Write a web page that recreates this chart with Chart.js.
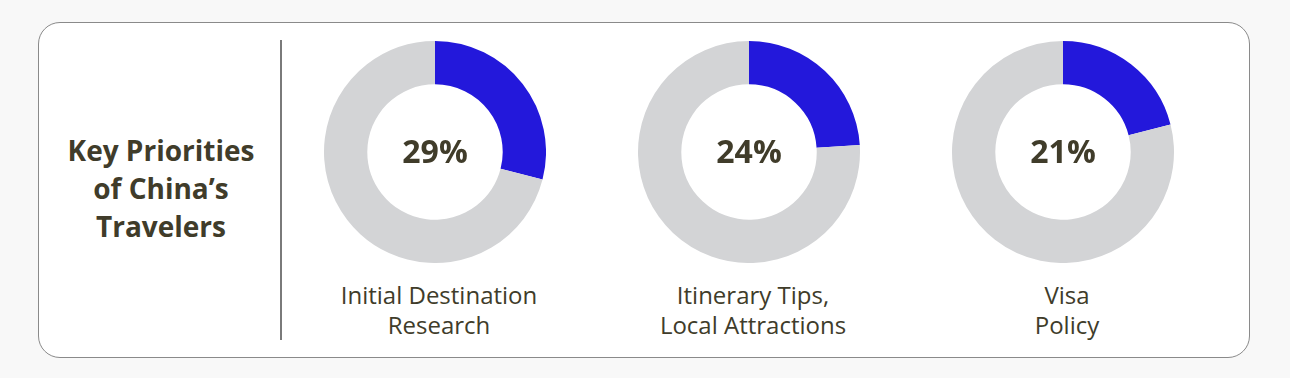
<!DOCTYPE html>
<html>
<head>
<meta charset="utf-8">
<script src="https://cdn.jsdelivr.net/npm/chart.js@4.4.1/dist/chart.umd.min.js"></script>
<style>
  html, body { margin: 0; padding: 0; background: #f8f8f8; }
  body { width: 1290px; height: 378px; position: relative; overflow: hidden; font-family: 'Open Sans', sans-serif; color: #403c2a; }
  .card { position: absolute; left: 38px; top: 22px; width: 1212px; height: 336px; background: #fff; border: 1px solid #8a8a8a; border-radius: 22px; box-sizing: border-box; }
  .divider { position: absolute; left: 280px; top: 40px; width: 2px; height: 300px; background: #7a7a7a; }
  .title { position: absolute; left: 40px; width: 242px; top: 131px; text-align: center; font-weight: 700; font-size: 28px; line-height: 38px; }
  .donut { position: absolute; top: 41px; width: 222px; height: 222px; }
  .label { position: absolute; top: 280px; width: 300px; text-align: center; font-size: 24px; line-height: 30px; }
</style>
</head>
<body>
<div class="card"></div>
<div class="divider"></div>
<div class="title">Key Priorities<br>of China’s<br>Travelers</div>

<div class="donut" style="left:324px"><canvas id="donut-0" width="222" height="222"></canvas></div>
<div class="donut" style="left:638px"><canvas id="donut-1" width="222" height="222"></canvas></div>
<div class="donut" style="left:952px"><canvas id="donut-2" width="222" height="222"></canvas></div>

<div class="label" id="label-0" style="left:289px"></div>
<div class="label" id="label-1" style="left:603px"></div>
<div class="label" id="label-2" style="left:917px"></div>

<script>
'use strict';

// ******* DATA *******
let categories = [
  ['Initial Destination', 'Research'],
  ['Itinerary Tips,', 'Local Attractions'],
  ['Visa', 'Policy']
];
let shareValues = [29, 24, 21];

// ******* COLORS *******
let blueColor = '#2318db';
let greyColor = '#d3d4d6';
let textColor = '#403c2a';

// draws the percentage in the middle of each ring
let centerTextPlugin = {
  id: 'centerText',
  afterDraw(chart) {
    let ctx = chart.ctx;
    let arc = chart.getDatasetMeta(0).data[0];
    let value = chart.data.datasets[0].data[0];
    ctx.save();
    ctx.font = 'bold 32px "Open Sans"';
    ctx.fillStyle = textColor;
    ctx.textAlign = 'center';
    ctx.textBaseline = 'middle';
    ctx.fillText(value + '%', arc.x, arc.y + 2);
    ctx.restore();
  }
};

function renderDonut(index) {
  let canvasElem = document.getElementById('donut-' + index).getContext('2d');
  let value = shareValues[index];

  new Chart(canvasElem, {
    type: 'doughnut',
    data: {
      labels: ['Share', 'Rest'],
      datasets: [{
        data: [value, 100 - value],
        backgroundColor: [blueColor, greyColor],
        borderWidth: 0,
        hoverOffset: 0
      }]
    },
    options: {
      responsive: false,
      animation: false,
      cutout: '61%',
      layout: { padding: 0 },
      plugins: {
        legend: { display: false },
        tooltip: { enabled: false }
      }
    },
    plugins: [centerTextPlugin]
  });

  document.getElementById('label-' + index).innerHTML = categories[index].join('<br>');
}

for (let i = 0; i < shareValues.length; i++) {
  renderDonut(i);
}
</script>
</body>
</html>
